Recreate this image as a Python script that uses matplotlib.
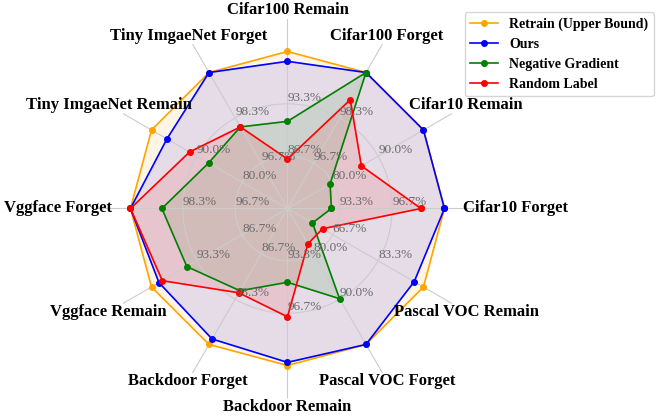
import numpy as np
import matplotlib
matplotlib.use('Agg')
import matplotlib.pyplot as plt

plt.rcParams['font.family'] = ['Liberation Serif', 'DejaVu Serif']

# axes, counter-clockwise from the right
labels = ['Cifar10 Forget', 'Cifar10 Remain', 'Cifar100 Forget', 'Cifar100 Remain',
          'Tiny ImgaeNet Forget', 'Tiny ImgaeNet Remain', 'Vggface Forget', 'Vggface Remain',
          'Backdoor Forget', 'Backdoor Remain', 'Pascal VOC Forget', 'Pascal VOC Remain']
# lower end of each axis (upper end is 100%)
axis_min = [90, 70, 95, 80, 95, 70, 95, 80, 80, 90, 70, 50]
axis_max = [100] * 12

retrain = [100, 100, 100, 100, 100, 100, 100, 100, 100, 100, 100, 100]
ours = [100, 100, 100, 98.75, 100, 96.6, 100, 98.9, 99.2, 99.8, 100, 96.6]
neg_grad = [92.8, 79.4, 100, 91.1, 98.0, 87.4, 99.0, 94.8, 92.1, 94.7, 89.9, 59.2]
rand_label = [98.5, 86.3, 99.0, 86.3, 98.0, 91.6, 100, 98.4, 92.4, 96.9, 77.8, 62.9]

series = [('Retrain (Upper Bound)', retrain, 'orange'),
          ('Ours', ours, 'blue'),
          ('Negative Gradient', neg_grad, 'green'),
          ('Random Label', rand_label, 'red')]

n = len(labels)
angles = np.arange(n) * 2 * np.pi / n
lo = np.array(axis_min, dtype=float)
hi = np.array(axis_max, dtype=float)


def norm(vals):
    return (np.array(vals, dtype=float) - lo) / (hi - lo)


fig = plt.figure(figsize=(6.64, 4.18), dpi=100)
ax = fig.add_axes([0.1468, 0.0467, 0.5723, 0.909], polar=True)
ax.set_ylim(0, 1.21)
ax.set_xticks(angles)
ax.set_xticklabels([])
ax.set_yticks([1 / 3, 2 / 3])
ax.set_yticklabels([])
ax.grid(True, color='#cccccc', lw=0.8)
ax.spines['polar'].set_visible(False)
ax.tick_params(length=0)

for name, vals, col in series:
    r = norm(vals)
    th = np.append(angles, angles[0])
    rr = np.append(r, r[0])
    ax.plot(th, rr, color=col, lw=1.2, marker='o', ms=4, label=name)
    ax.fill(th, rr, color=col, alpha=0.1)

# per-axis scale labels
for i, a in enumerate(angles):
    for k in (1, 2):
        v = lo[i] + (hi[i] - lo[i]) * k / 3
        ax.text(a, k / 3, '%.1f%%' % v, ha='left', va='bottom',
                fontsize=9.5, color='#6a6a6a')

# category labels
for lab, a in zip(labels, angles):
    c = np.cos(a)
    if abs(c) > 0.99:
        ha = 'left' if c > 0 else 'right'
        rl = 1.12
    elif abs(abs(c) - 0.866) < 0.01:
        ha = 'center'
        rl = 1.315
    else:
        ha = 'center'
        rl = 1.265
    ax.text(a, rl, lab, ha=ha, va='center', fontsize=12, fontweight='bold')

fig.legend(loc='upper right', bbox_to_anchor=(0.995, 0.988),
           prop={'weight': 'bold', 'size': 10})

fig.savefig('out.png', dpi=100)
